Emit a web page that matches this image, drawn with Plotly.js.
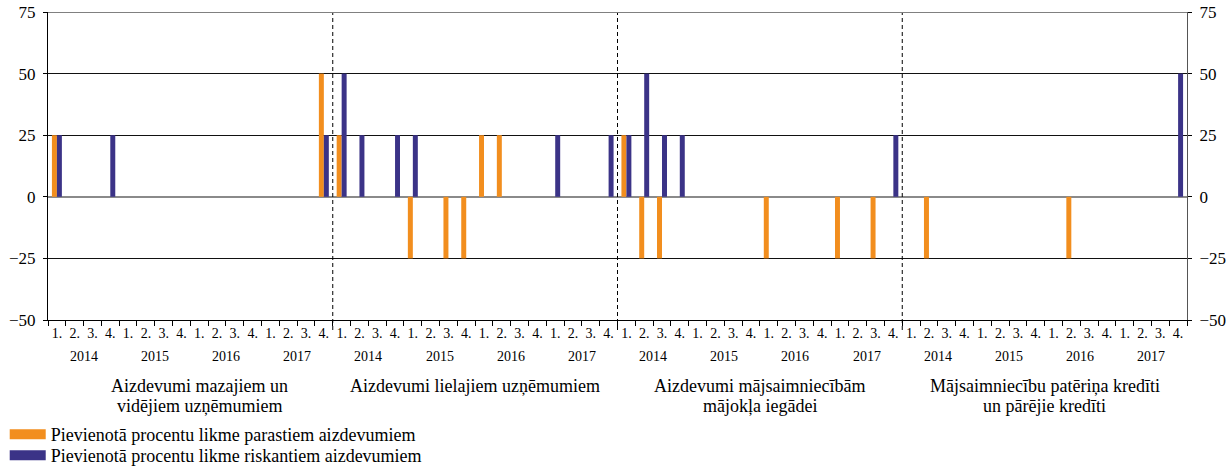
<!DOCTYPE html>
<html>
<head>
<meta charset="utf-8">
<script src="https://cdn.plot.ly/plotly-3.0.1.min.js"></script>
<style>html,body{margin:0;padding:0;background:#fff;}#chart{width:1227px;height:467px;}</style>
</head>
<body>
<div id="chart"></div>
<script>
// ---- data ----
const quarterLabels = ['1.', '2.', '3.', '4.'];
const yearLabels = ['2014', '2015', '2016', '2017'];
const panelTitles = [
  ['Aizdevumi mazajiem un', 'vidējiem uzņēmumiem'],
  ['Aizdevumi lielajiem uzņēmumiem'],
  ['Aizdevumi mājsaimniecībām', 'mājokļa iegādei'],
  ['Mājsaimniecību patēriņa kredīti', 'un pārējie kredīti']
];
const seriesNames = [
  'Pievienotā procentu likme parastiem aizdevumiem',
  'Pievienotā procentu likme riskantiem aizdevumiem'
];
// 16 quarters per panel: 2014 Q1 ... 2017 Q4
const smeOrdinary   = [25, null, null, null, null, null, null, null, null, null, null, null, null, null, null, 50];
const smeRisky      = [25, null, null, 25, null, null, null, null, null, null, null, null, null, null, null, 25];
const largeOrdinary = [25, null, null, null, -25, null, -25, -25, 25, 25, null, null, null, null, null, null];
const largeRisky    = [50, 25, null, 25, 25, null, null, null, null, null, null, null, 25, null, null, 25];
const housingOrdinary = [25, -25, -25, null, null, null, null, null, -25, null, null, null, -25, null, -25, null];
const housingRisky    = [25, 50, 25, 25, null, null, null, null, null, null, null, null, null, null, null, 25];
const consumerOrdinary = [null, -25, null, null, null, null, null, null, null, -25, null, null, null, null, null, null];
const consumerRisky    = [null, null, null, null, null, null, null, null, null, null, null, null, null, null, null, 50];
const yTickVals = [-50, -25, 0, 25, 50, 75];
const yTickText = ['−50', '−25', '0', '25', '50', '75'];

const ordinaryPanels = [smeOrdinary, largeOrdinary, housingOrdinary, consumerOrdinary];
const riskyPanels = [smeRisky, largeRisky, housingRisky, consumerRisky];

// ---- build ----
const ORANGE = '#F28E1E';
const PURPLE = '#3B3387';
const FONT = '"Liberation Serif", "Times New Roman", Times, serif';
const nPanels = ordinaryPanels.length;
const perPanel = yearLabels.length * quarterLabels.length;

const xs = [], yO = [], yR = [], tickvals = [], ticktext = [];
for (let p = 0; p < nPanels; p++) {
  for (let i = 0; i < perPanel; i++) {
    const idx = p * perPanel + i;
    xs.push(idx);
    yO.push(ordinaryPanels[p][i]);
    yR.push(riskyPanels[p][i]);
    tickvals.push(idx);
    ticktext.push(quarterLabels[i % quarterLabels.length]);
  }
}

const traces = [
  {type: 'bar', x: xs, y: yO, name: seriesNames[0], marker: {color: ORANGE}, showlegend: false},
  {type: 'bar', x: xs, y: yR, name: seriesNames[1], marker: {color: PURPLE}, showlegend: false},
  {type: 'scatter', mode: 'lines', x: [null], y: [null], name: seriesNames[0], line: {color: ORANGE, width: 11}, xaxis: 'x', yaxis: 'y2', hoverinfo: 'skip', legend: 'legend'},
  {type: 'scatter', mode: 'lines', x: [null], y: [null], name: seriesNames[1], line: {color: PURPLE, width: 11}, xaxis: 'x', yaxis: 'y2', hoverinfo: 'skip', legend: 'legend2'}
];

const PLOT_H = 308;
const py = (px) => -(px - (12 + PLOT_H)) / PLOT_H; // pixel y -> paper y
const total = nPanels * perPanel;
const annotations = [];
const shapes = [];
for (let p = 0; p < nPanels; p++) {
  for (let y = 0; y < yearLabels.length; y++) {
    annotations.push({
      x: p * perPanel + y * quarterLabels.length + (quarterLabels.length - 1) / 2,
      y: py(356), xref: 'x', yref: 'paper', text: yearLabels[y], showarrow: false,
      xanchor: 'center', yanchor: 'middle', font: {family: FONT, size: 14, color: '#000'}
    });
  }
  const lines = panelTitles[p];
  lines.forEach((t, k) => {
    annotations.push({
      x: p * perPanel + (perPanel - 1) / 2, y: py(386 + k * 19.5), xref: 'x', yref: 'paper',
      xshift: p === 0 ? 9 : 0,
      text: t, showarrow: false, xanchor: 'center', yanchor: 'middle',
      font: {family: FONT, size: 18, color: '#000'}
    });
  });
  if (p > 0) {
    shapes.push({type: 'line', xref: 'x', yref: 'paper', x0: p * perPanel - 0.5, x1: p * perPanel - 0.5,
      y0: py(330), y1: 1, line: {color: '#000', width: 1, dash: '4px,3px'}, layer: 'above'});
  }
}
shapes.push({type: 'line', xref: 'paper', yref: 'y', x0: 0, x1: 1, y0: 75, y1: 75, line: {color: '#808080', width: 2}, layer: 'above'});

const yCommon = {
  range: [-50, 75], tickmode: 'array', tickvals: yTickVals, ticktext: yTickText,
  ticks: 'outside', ticklen: 4, tickcolor: '#000', fixedrange: true, ticklabelstandoff: 4,
  tickfont: {family: FONT, size: 17, color: '#000'}
};

const legendCommon = {
  orientation: 'v', x: -0.038, xanchor: 'left', yanchor: 'top',
  font: {family: FONT, size: 18, color: '#000'}, tracegroupgap: 0, itemwidth: 36,
  bgcolor: 'rgba(0,0,0,0)'
};

const layout = {
  width: 1227, height: 467,
  margin: {l: 48, r: 40, t: 12, b: 147, autoexpand: false},
  paper_bgcolor: '#fff', plot_bgcolor: '#fff',
  font: {family: FONT, color: '#000'},
  barmode: 'group', bargap: 0.44, bargroupgap: 0,
  showlegend: true,
  legend: Object.assign({}, legendCommon, {y: py(416)}),
  legend2: Object.assign({}, legendCommon, {y: py(437)}),
  xaxis: {
    range: [-0.5, total - 0.5], tickmode: 'array', tickvals: tickvals, ticktext: ticktext,
    ticks: '', showgrid: false, zeroline: false, showline: true, linecolor: '#000', linewidth: 1,
    tickfont: {family: FONT, size: 14, color: '#000'}, tickangle: 0, fixedrange: true,
    minor: {ticks: 'outside', ticklen: 5, tickcolor: '#000', tick0: -0.5, dtick: 1, showgrid: false}
  },
  yaxis: Object.assign({}, yCommon, {
    showgrid: true, gridcolor: '#111', gridwidth: 1,
    zeroline: true, zerolinecolor: '#8a8a8a', zerolinewidth: 1.5,
    showline: true, linecolor: '#000', linewidth: 1
  }),
  yaxis2: Object.assign({}, yCommon, {
    overlaying: 'y', side: 'right', showgrid: false, zeroline: false,
    showline: true, linecolor: '#555', linewidth: 1
  }),
  annotations: annotations,
  shapes: shapes
};

Plotly.newPlot('chart', traces, layout, {displayModeBar: false, staticPlot: true});
</script>
</body>
</html>
